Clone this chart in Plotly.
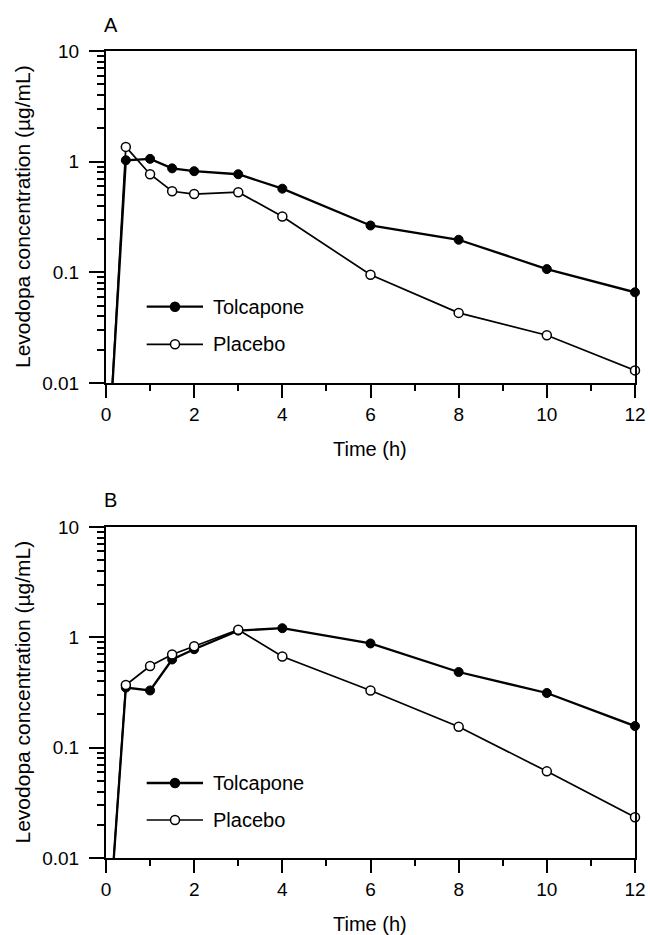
import plotly.graph_objects as go

# ---- data ----
time_h = [0, 0.45, 1, 1.5, 2, 3, 4, 6, 8, 10, 12]
tolcapone_A = [0.001, 1.03, 1.06, 0.87, 0.82, 0.77, 0.57, 0.265, 0.197, 0.107, 0.066]
placebo_A = [0.001, 1.36, 0.77, 0.54, 0.51, 0.53, 0.32, 0.095, 0.043, 0.027, 0.013]
tolcapone_B = [0.001, 0.35, 0.33, 0.63, 0.78, 1.15, 1.21, 0.88, 0.485, 0.313, 0.157]
placebo_B = [0.001, 0.37, 0.55, 0.70, 0.83, 1.17, 0.67, 0.33, 0.155, 0.061, 0.0234]

x_ticks = [0, 2, 4, 6, 8, 10, 12]
x_minor = [1, 3, 5, 7, 9, 11]
y_ticks = [0.01, 0.1, 1, 10]
y_ticklabels = ["0.01", "0.1", "1", "10"]
y_minor = [m * 10 ** e for e in (-2, -1, 0) for m in range(2, 10)]

FONT = "Liberation Sans, Arial, Helvetica, sans-serif"
W, H = 650, 935

fig = go.Figure()

msize = [0] + [9] * (len(time_h) - 1)

def add_panel(tol, pla, xa, ya):
    fig.add_trace(go.Scatter(
        x=time_h, y=tol, mode="lines+markers", xaxis=xa, yaxis=ya,
        line=dict(color="black", width=2.3),
        marker=dict(symbol="circle", size=msize, color="black", opacity=1,
                    line=dict(color="black", width=1)),
        cliponaxis=False, showlegend=False, name="Tolcapone"))
    fig.add_trace(go.Scatter(
        x=time_h, y=pla, mode="lines+markers", xaxis=xa, yaxis=ya,
        line=dict(color="black", width=1.7),
        marker=dict(symbol="circle", size=msize, color="white", opacity=1,
                    line=dict(color="black", width=1.5)),
        cliponaxis=False, showlegend=False, name="Placebo"))

add_panel(tolcapone_A, placebo_A, "x", "y")
add_panel(tolcapone_B, placebo_B, "x2", "y2")

xdom = [106 / W, 635 / W]
yA = [1 - 383 / H, 1 - 51 / H]
yB = [1 - 858 / H, 1 - 527 / H]

def xaxis_cfg(anchor):
    return dict(
        domain=xdom, anchor=anchor, range=[0, 12], tickvals=x_ticks,
        ticks="outside", ticklen=13, tickwidth=2, tickcolor="black",
        showline=True, linecolor="black", linewidth=2, mirror=True,
        showgrid=False, zeroline=False, automargin=False,
        tickfont=dict(family=FONT, size=19, color="black"),
        minor=dict(tickvals=x_minor, ticks="outside", ticklen=6,
                   tickwidth=2, tickcolor="black", showgrid=False),
    )

def yaxis_cfg(anchor, dom):
    return dict(
        domain=dom, anchor=anchor, type="log", range=[-2, 1],
        tickvals=y_ticks, ticktext=y_ticklabels,
        ticks="outside", ticklen=15, tickwidth=2, tickcolor="black",
        showline=True, linecolor="black", linewidth=2, mirror=True,
        showgrid=False, zeroline=False, automargin=False,
        tickfont=dict(family=FONT, size=19, color="black"),
        ticklabelstandoff=6,
        minor=dict(tickvals=y_minor, ticks="outside", ticklen=7,
                   tickwidth=1.5, tickcolor="black", showgrid=False),
    )

fig.update_layout(
    width=W, height=H,
    margin=dict(l=0, r=0, t=0, b=0),
    paper_bgcolor="white", plot_bgcolor="white",
    font=dict(family=FONT, size=20, color="black"),
    xaxis=xaxis_cfg("y"), yaxis=yaxis_cfg("x", yA),
    xaxis2=xaxis_cfg("y2"), yaxis2=yaxis_cfg("x2", yB),
    showlegend=False,
)

annotations = []
shapes = []
for label, ycen, ytop, ytime, leg_y in [
    ("A", (yA[0] + yA[1]) / 2, 1 - 25 / H, 1 - 449 / H, (1 - 306.7 / H, 1 - 344.3 / H)),
    ("B", (yB[0] + yB[1]) / 2, 1 - 500 / H, 1 - 924 / H, (1 - 783 / H, 1 - 820 / H)),
]:
    annotations.append(dict(text=label, x=111 / W, y=ytop, xref="paper", yref="paper",
                            showarrow=False, xanchor="center", yanchor="middle",
                            font=dict(family=FONT, size=20, color="black")))
    annotations.append(dict(text="Levodopa concentration (\u00b5g/mL)", x=22 / W, y=ycen,
                            xref="paper", yref="paper", textangle=-90, showarrow=False,
                            xanchor="center", yanchor="middle",
                            font=dict(family=FONT, size=21, color="black")))
    annotations.append(dict(text="Time (h)", x=370 / W, y=ytime, xref="paper", yref="paper",
                            showarrow=False, xanchor="center", yanchor="middle",
                            font=dict(family=FONT, size=20, color="black")))
    # legend
    for name, yy, fill, lw in [("Tolcapone", leg_y[0], "black", 2.3),
                               ("Placebo", leg_y[1], "white", 1.7)]:
        shapes.append(dict(type="line", xref="paper", yref="paper",
                           x0=146.7 / W, x1=203 / W, y0=yy, y1=yy,
                           line=dict(color="black", width=lw)))
        shapes.append(dict(type="circle", xref="paper", yref="paper",
                           xsizemode="pixel", ysizemode="pixel",
                           xanchor=175 / W, yanchor=yy,
                           x0=-4.5, x1=4.5, y0=-4.5, y1=4.5,
                           fillcolor=fill, line=dict(color="black", width=1.5)))
        annotations.append(dict(text=name, x=211 / W, y=yy, xref="paper", yref="paper",
                                showarrow=False, xanchor="left", yanchor="middle",
                                font=dict(family=FONT, size=20, color="black")))

fig.update_layout(annotations=annotations, shapes=shapes)
fig.write_html(
    "out.html",
    config={"displayModeBar": False},
    post_script="document.body.style.margin='0';document.body.style.overflow='hidden';",
)
